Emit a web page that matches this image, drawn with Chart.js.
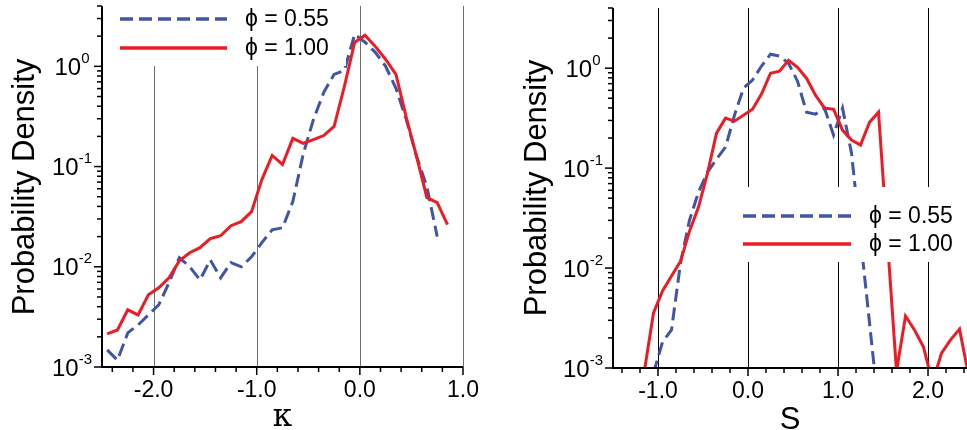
<!DOCTYPE html>
<html>
<head>
<meta charset="utf-8">
<script src="https://cdn.jsdelivr.net/npm/chart.js@4.4.0/dist/chart.umd.min.js"></script>
<style>
  html, body { margin: 0; padding: 0; background: #fff; }
  #wrap { position: relative; width: 967px; height: 430px; overflow: hidden; }
  canvas { position: absolute; top: 0; }
  #left { left: 0; }
  #right { left: 480px; }
</style>
</head>
<body>
<div id="wrap">
  <canvas id="left" width="480" height="430"></canvas>
  <canvas id="right" width="487" height="430"></canvas>
</div>
<script>
// ---- left panel: PDF of kappa ----
const kappaBins = [-2.45, -2.35, -2.25, -2.15, -2.05, -1.95, -1.85, -1.75, -1.65, -1.55,
  -1.45, -1.35, -1.25, -1.15, -1.05, -0.95, -0.85, -0.75, -0.65, -0.55,
  -0.45, -0.35, -0.25, -0.15, -0.05, 0.05, 0.15, 0.25, 0.35, 0.45,
  0.55, 0.65, 0.75, 0.85];
const kappaPdf055 = [0.00148, 0.00117, 0.00219, 0.00263, 0.00331, 0.00417, 0.00692, 0.0123, 0.0100, 0.00741,
  0.0117, 0.00776, 0.0110, 0.0100, 0.0126, 0.0174, 0.0234, 0.0245, 0.0447, 0.132,
  0.295, 0.550, 0.832, 0.912, 2.09, 1.74, 1.38, 1.00, 0.603, 0.295,
  0.126, 0.063, 0.020];
const kappaPdf100 = [0.00214, 0.00234, 0.00372, 0.00331, 0.00525, 0.00617, 0.00776, 0.0115, 0.0138, 0.0155,
  0.0191, 0.0204, 0.0257, 0.0282, 0.0355, 0.0741, 0.129, 0.105, 0.191, 0.170,
  0.186, 0.204, 0.251, 0.631, 1.74, 2.04, 1.58, 1.17, 0.832, 0.309,
  0.126, 0.049, 0.0437, 0.0263];

// ---- right panel: PDF of S ----
const sBins055 = [-1.05, -0.95, -0.85, -0.75, -0.65, -0.55, -0.45, -0.35, -0.25, -0.15,
  -0.05, 0.05, 0.15, 0.25, 0.35, 0.45, 0.55, 0.65, 0.75, 0.85,
  0.95, 1.05, 1.15, 1.25, 1.35, 1.45];
const sPdf055 = [0.00089, 0.00182, 0.0024, 0.0112, 0.0302, 0.0575, 0.0912, 0.123, 0.162, 0.339,
  0.631, 0.759, 1.05, 1.38, 1.32, 1.12, 0.741, 0.363, 0.347, 0.398,
  0.214, 0.398, 0.141, 0.020, 0.00282, 0.0004];
const sBins100 = [-1.15, -1.05, -0.95, -0.85, -0.75, -0.65, -0.55, -0.45, -0.35, -0.25,
  -0.15, -0.05, 0.05, 0.15, 0.25, 0.35, 0.45, 0.55, 0.65, 0.75,
  0.85, 0.95, 1.05, 1.15, 1.25, 1.35, 1.45, 1.55, 1.65, 1.75,
  1.85, 1.95, 2.05, 2.15, 2.25, 2.35, 2.45];
const sPdf100 = [0.00095, 0.00355, 0.00589, 0.00832, 0.0117, 0.0234, 0.0407, 0.0891, 0.224, 0.316,
  0.295, 0.339, 0.389, 0.550, 0.891, 0.933, 1.20, 1.02, 0.794, 0.537,
  0.398, 0.389, 0.240, 0.191, 0.170, 0.288, 0.363, 0.0182, 0.00093, 0.00331,
  0.0024, 0.00162, 0.00071, 0.00141, 0.00191, 0.00245, 0.00085];

// ---- ticks ----
const kappaMajor = [-2, -1, 0, 1];
const kappaLabels = ['-2.0', '-1.0', '0.0', '1.0'];
const sMajor = [-1, 0, 1, 2];
const sLabels = ['-1.0', '0.0', '1.0', '2.0'];
const pdfDecades = [0.001, 0.01, 0.1, 1];
const pdfExponents = ['-3', '-2', '-1', '0'];

const FONT = '"Liberation Sans", Arial, Helvetica, sans-serif';
const BLUE = '#4154a6';
const RED = '#ed1c24';

function pairs(xs, ys) {
  return ys.map((y, i) => ({ x: xs[i], y: y }));
}

// grid, axes, ticks, labels and legend drawn on top of the chart area
const axesDecor = {
  id: 'axesDecor',
  beforeDatasetsDraw(chart, args, o) {
    const { ctx, chartArea: a, scales: { x } } = chart;
    ctx.save();
    ctx.strokeStyle = o.gridColor;
    ctx.lineWidth = 1;
    o.xMajor.forEach(v => {
      const px = Math.round(x.getPixelForValue(v)) + 0.5;
      ctx.beginPath();
      ctx.moveTo(px, a.top);
      ctx.lineTo(px, a.bottom);
      ctx.stroke();
    });
    ctx.restore();
  },
  afterDatasetsDraw(chart, args, o) {
    const { ctx, chartArea: a, scales: { x, y } } = chart;
    ctx.save();

    // legend
    const L = o.legend;
    ctx.fillStyle = '#fff';
    ctx.fillRect(L.box[0], L.box[1], L.box[2], L.box[3]);
    L.rows.forEach((row, i) => {
      const ds = chart.data.datasets[row];
      ctx.strokeStyle = ds.borderColor;
      ctx.lineWidth = 3.5;
      ctx.setLineDash(ds.borderDash || []);
      ctx.beginPath();
      ctx.moveTo(L.x0, L.ys[i]);
      ctx.lineTo(L.x1, L.ys[i]);
      ctx.stroke();
      ctx.setLineDash([]);
      ctx.fillStyle = '#000';
      ctx.font = '23px ' + FONT;
      ctx.textAlign = 'left';
      ctx.textBaseline = 'middle';
      ctx.fillText(ds.label, L.tx, L.ys[i] + 1);
    });

    // axis lines
    ctx.strokeStyle = '#000';
    ctx.lineWidth = 2;
    ctx.beginPath();
    ctx.moveTo(a.left, a.top);
    ctx.lineTo(a.left, a.bottom);
    ctx.lineTo(a.right, a.bottom);
    ctx.stroke();

    // x ticks every 0.2
    ctx.lineWidth = 1.5;
    const n = Math.round((o.xTickTo - o.xTickFrom) / 0.2);
    for (let i = 0; i <= n; i++) {
      const v = o.xTickFrom + i * 0.2;
      const major = Math.abs(v - Math.round(v)) < 1e-6;
      const px = x.getPixelForValue(v);
      ctx.beginPath();
      ctx.moveTo(px, a.bottom);
      ctx.lineTo(px, a.bottom + (major ? 8 : 5));
      ctx.stroke();
    }

    // y ticks (log)
    pdfDecades.forEach(d => {
      for (let k = 1; k <= 9; k++) {
        const v = d * k;
        if (v > y.max * 1.0001) break;
        const py = y.getPixelForValue(v);
        ctx.beginPath();
        ctx.moveTo(a.left, py);
        ctx.lineTo(a.left - (k === 1 ? 8 : 5), py);
        ctx.stroke();
      }
    });

    // x labels
    ctx.fillStyle = '#000';
    ctx.font = '23px ' + FONT;
    ctx.textAlign = 'center';
    ctx.textBaseline = 'middle';
    o.xMajor.forEach((v, i) => {
      ctx.fillText(o.xLabels[i], x.getPixelForValue(v), a.bottom + 24);
    });

    // y labels 10^n
    ctx.textAlign = 'left';
    ctx.textBaseline = 'alphabetic';
    pdfDecades.forEach((d, i) => {
      const py = y.getPixelForValue(d);
      ctx.font = '24px ' + FONT;
      const w1 = ctx.measureText('10').width;
      ctx.font = '15px ' + FONT;
      const w2 = ctx.measureText(pdfExponents[i]).width;
      const x0 = a.left - 30 - (w1 + w2) / 2;
      ctx.font = '24px ' + FONT;
      ctx.fillText('10', x0, py + 8.5);
      ctx.font = '15px ' + FONT;
      ctx.fillText(pdfExponents[i], x0 + w1, py - 3.5);
    });

    // axis titles
    ctx.textAlign = 'center';
    ctx.textBaseline = 'middle';
    ctx.font = o.xTitleFont;
    ctx.fillText(o.xTitle, (a.left + a.right) / 2, o.xTitleY);
    ctx.save();
    ctx.translate(o.yTitleX, o.yTitleY);
    ctx.rotate(-Math.PI / 2);
    ctx.font = '31px ' + FONT;
    ctx.fillText('Probability Density', 0, 0);
    ctx.restore();

    ctx.restore();
  }
};

function makePanel(id, sets, pad, xr, decor) {
  return new Chart(document.getElementById(id), {
    type: 'line',
    data: {
      datasets: [
        {
          label: 'ϕ = 0.55',
          data: sets[0],
          borderColor: BLUE,
          borderDash: [13, 6],
          order: 1
        },
        {
          label: 'ϕ = 1.00',
          data: sets[1],
          borderColor: RED,
          order: 0
        }
      ]
    },
    options: {
      responsive: false,
      animation: false,
      events: [],
      layout: { padding: pad },
      elements: {
        point: { radius: 0 },
        line: { tension: 0, borderWidth: 3, fill: false }
      },
      plugins: {
        legend: { display: false },
        tooltip: { enabled: false },
        axesDecor: decor
      },
      scales: {
        x: { type: 'linear', min: xr[0], max: xr[1], display: false },
        y: { type: 'logarithmic', min: 0.001, max: 4, display: false }
      }
    },
    plugins: [axesDecor]
  });
}

makePanel('left',
  [pairs(kappaBins, kappaPdf055), pairs(kappaBins, kappaPdf100)],
  { left: 102, top: 6, right: 17, bottom: 63 },
  [-2.5, 1.0],
  {
    gridColor: '#6e6e6e',
    xMajor: kappaMajor, xLabels: kappaLabels,
    xTickFrom: -2.4, xTickTo: 1.0,
    xTitle: 'κ', xTitleFont: '31px "DejaVu Serif", "Liberation Serif", serif', xTitleY: 418,
    yTitleX: 25, yTitleY: 187,
    legend: { box: [108, 0, 238, 66], rows: [0, 1], ys: [19, 48], x0: 120, x1: 227, tx: 245 }
  });

makePanel('right',
  [pairs(sBins055, sPdf055), pairs(sBins100, sPdf100)],
  { left: 133, top: 8, right: 0, bottom: 62 },
  [-1.5, 2.433],
  {
    gridColor: '#000',
    xMajor: sMajor, xLabels: sLabels,
    xTickFrom: -1.4, xTickTo: 2.4,
    xTitle: 'S', xTitleFont: '31px ' + FONT, xTitleY: 420,
    yTitleX: 57, yTitleY: 188,
    legend: { box: [260, 187, 227, 75], rows: [0, 1], ys: [216, 244], x0: 263, x1: 371, tx: 389 }
  });
</script>
</body>
</html>
